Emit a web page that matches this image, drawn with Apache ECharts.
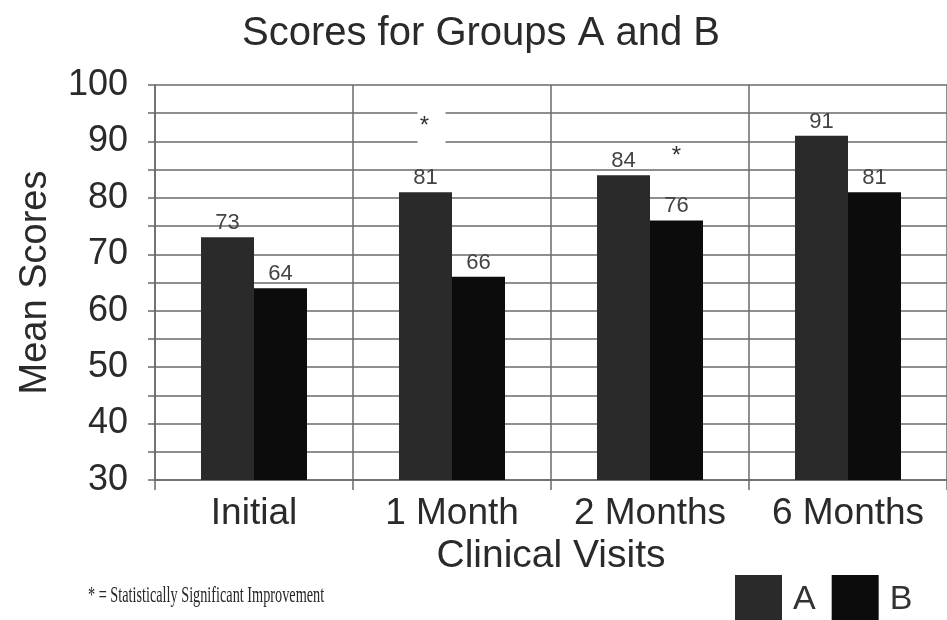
<!DOCTYPE html>
<html>
<head>
<meta charset="utf-8">
<script src="https://cdn.jsdelivr.net/npm/echarts@6/dist/echarts.min.js"></script>
<style>
  html, body { margin: 0; padding: 0; background: #fff; }
  #chart { width: 947px; height: 620px; }
</style>
</head>
<body>
<div id="chart"></div>
<script>
// Clinical visit categories and mean scores per group
const visits = ['Initial', '1 Month', '2 Months', '6 Months'];
const groupA = [73, 81, 84, 91];
const groupB = [64, 66, 76, 81];

// Value-axis range and step
const yMin = 30;
const yMax = 100;
const yStep = 5;

// Significance markers: [visit, height on value axis]
const sigA = [['1 Month', 93.4]];
const sigB = [['2 Months', 88.0]];

const FONT = '"Liberation Sans", Arial, Helvetica, sans-serif';
const TEXT = '#2a2a2a';
const GRID = '#6a6a6a';

const chart = echarts.init(document.getElementById('chart'), null, { renderer: 'canvas' });

const barLabel = {
  show: true,
  position: 'top',
  distance: 3,
  fontFamily: FONT,
  fontSize: 22,
  color: '#444'
};

// Asterisk above a bar; the boxed variant clears the grid lines behind it
function sigPoints(list, offsetX, boxed) {
  return {
    silent: true,
    animation: false,
    data: list.map(([visit, v]) => ({
      coord: [visit, v],
      symbol: 'rect',
      symbolSize: boxed ? [28, 52] : [1, 1],
      symbolOffset: [offsetX, 0],
      itemStyle: { color: boxed ? '#fff' : 'rgba(0,0,0,0)' },
      label: {
        show: true,
        position: 'inside',
        formatter: '*',
        fontFamily: FONT,
        fontSize: 24,
        color: '#333',
        offset: [boxed ? -7 : 0, 4]
      }
    }))
  };
}

chart.setOption({
  animation: false,
  backgroundColor: '#fff',
  title: {
    text: 'Scores for Groups A and B',
    left: 476,
    top: 9,
    textAlign: 'center',
    textStyle: { fontFamily: FONT, fontSize: 40, fontWeight: 'normal', color: TEXT }
  },
  legend: {
    data: ['A', 'B'],
    left: 730,
    top: 570,
    icon: 'rect',
    itemWidth: 47,
    itemHeight: 50,
    itemGap: 16,
    textStyle: { fontFamily: FONT, fontSize: 34, color: '#333', padding: [0, 0, 0, 6] }
  },
  grid: { left: 155, top: 85, width: 798, height: 395 },
  xAxis: {
    type: 'category',
    data: visits,
    name: 'Clinical Visits',
    nameLocation: 'middle',
    nameGap: 53,
    nameTextStyle: { fontFamily: FONT, fontSize: 39, color: TEXT },
    axisLine: { show: true, lineStyle: { color: GRID, width: 1.5 } },
    axisTick: { show: true, length: 10, interval: 0, lineStyle: { color: GRID, width: 1.5 } },
    splitLine: { show: true, interval: 0, lineStyle: { color: GRID, width: 1.5 } },
    axisLabel: { interval: 0, margin: 15, fontFamily: FONT, fontSize: 37, color: TEXT }
  },
  yAxis: {
    type: 'value',
    min: yMin,
    max: yMax,
    interval: yStep,
    name: 'Mean Scores',
    nameLocation: 'middle',
    nameRotate: 90,
    nameGap: 100,
    nameTextStyle: { fontFamily: FONT, fontSize: 38, color: TEXT },
    axisLine: { show: true, lineStyle: { color: GRID, width: 1.5 } },
    axisTick: { show: true, length: 7, inside: false, lineStyle: { color: GRID, width: 1.5 } },
    splitLine: { show: true, lineStyle: { color: GRID, width: 1.5 } },
    axisLabel: {
      margin: 27,
      fontFamily: FONT,
      fontSize: 36,
      color: TEXT,
      formatter: v => (v % 10 === 0 ? String(v) : '')
    }
  },
  series: [
    {
      name: 'A',
      type: 'bar',
      data: groupA,
      barWidth: 53,
      barGap: '0%',
      itemStyle: { color: '#2a2a2a' },
      label: barLabel,
      markPoint: sigPoints(sigA, 6, true)
    },
    {
      name: 'B',
      type: 'bar',
      data: groupB,
      barWidth: 53,
      barGap: '0%',
      itemStyle: { color: '#0c0c0c' },
      label: barLabel,
      markPoint: sigPoints(sigB, 0, false)
    }
  ],
  graphic: [
    {
      type: 'text',
      left: 88,
      top: 584,
      scaleX: 0.62,
      style: {
        text: '* = Statistically Significant Improvement',
        font: '23px "Liberation Serif", "Times New Roman", serif',
        fill: '#262626'
      }
    }
  ]
});
</script>
</body>
</html>
